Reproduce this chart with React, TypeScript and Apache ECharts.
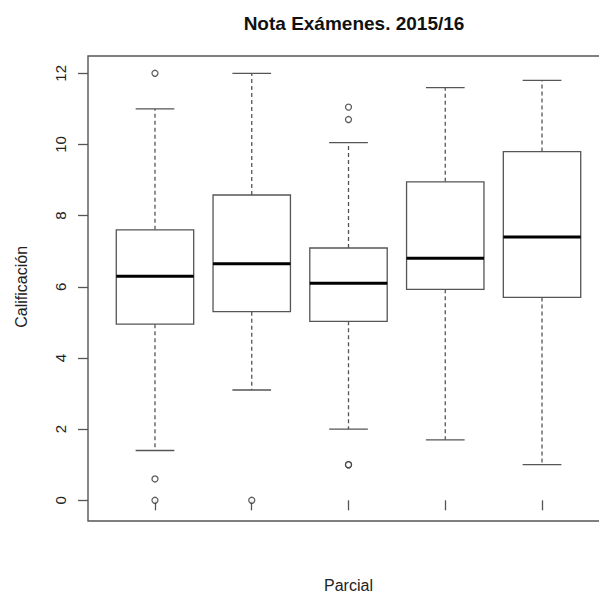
import React, { useEffect, useRef } from "react";
import * as echarts from "echarts";

const titleText = "Nota Exámenes. 2015/16";
const yAxisName = "Calificación";
const xAxisName = "Parcial";
const categories = ["1", "2", "3", "4", "5"];
const yTicks = [0, 2, 4, 6, 8, 10, 12];
const whiskerLow = [1.4, 3.1, 2.0, 1.7, 1.0];
const q1 = [4.95, 5.3, 5.03, 5.93, 5.7];
const median = [6.3, 6.65, 6.1, 6.8, 7.4];
const q3 = [7.6, 8.58, 7.09, 8.95, 9.8];
const whiskerHigh = [11.0, 12.0, 10.05, 11.6, 11.8];
const outlierGroup = [0, 0, 0, 1, 2, 2, 2, 2];
const outlierValue = [12, 0.6, 0, 0, 11.05, 10.7, 1, 1];

const FONT = "Liberation Sans";
const LINE = "#555";

export default function App() {
  const ref = useRef<HTMLDivElement>(null);
  useEffect(() => {
    if (!ref.current) return;
    const chart = echarts.init(ref.current, null, { renderer: "svg" });
    const boxData = categories.map((_, i) => [
      i,
      whiskerLow[i],
      q1[i],
      median[i],
      q3[i],
      whiskerHigh[i],
    ]);
    const outData = outlierGroup.map((g, i) => [g, outlierValue[i]]);
    chart.setOption({
      animation: false,
      backgroundColor: "#fff",
      title: {
        text: titleText,
        left: 349,
        top: 9,
        textAlign: "center",
        textStyle: { fontSize: 19, fontWeight: "bold", fontFamily: FONT, color: "#111" },
      },
      graphic: [
        {
          type: "rect",
          shape: { x: 88, y: 56, width: 540, height: 465 },
          style: { fill: "none", stroke: LINE, lineWidth: 1.4 },
          z: 10,
        },
      ],
      grid: { left: 106.6, right: 8.6, top: 73.3, bottom: 94.7 },
      xAxis: {
        type: "category",
        data: categories,
        boundaryGap: true,
        offset: 17.7,
        axisLine: { show: false },
        axisTick: { show: true, alignWithLabel: true, length: 10, lineStyle: { color: LINE, width: 1.3 } },
        axisLabel: { show: false },
        splitLine: { show: false },
        name: xAxisName,
        nameLocation: "middle",
        nameGap: 59,
        nameTextStyle: { fontSize: 16, fontFamily: FONT, color: "#222" },
      },
      yAxis: {
        type: "value",
        min: yTicks[0],
        max: yTicks[yTicks.length - 1],
        interval: 2,
        offset: 18.6,
        axisLine: { show: false },
        axisTick: { show: true, length: 10, lineStyle: { color: LINE, width: 1.3 } },
        axisLabel: { rotate: 90, margin: 20, fontSize: 15, fontFamily: FONT, color: "#222" },
        splitLine: { show: false },
        name: yAxisName,
        nameLocation: "middle",
        nameRotate: 90,
        nameGap: 59,
        nameTextStyle: { fontSize: 16, fontFamily: FONT, color: "#222" },
      },
      series: [
        {
          type: "custom",
          data: boxData,
          encode: { x: 0, y: [1, 2, 3, 4, 5] },
          renderItem: (params: any, api: any) => {
            const x = api.value(0);
            const lo = api.coord([x, api.value(1)]);
            const b1 = api.coord([x, api.value(2)]);
            const md = api.coord([x, api.value(3)]);
            const b3 = api.coord([x, api.value(4)]);
            const hi = api.coord([x, api.value(5)]);
            const band = api.size([1, 0])[0];
            const bw = band * 0.8;
            const cw = bw / 2;
            const cx = lo[0];
            const dashed = { stroke: LINE, lineWidth: 1.3, lineDash: [4, 3] };
            const solid = { stroke: LINE, lineWidth: 1.3 };
            return {
              type: "group",
              children: [
                { type: "line", shape: { x1: cx, y1: b3[1], x2: cx, y2: hi[1] }, style: dashed },
                { type: "line", shape: { x1: cx, y1: b1[1], x2: cx, y2: lo[1] }, style: dashed },
                { type: "line", shape: { x1: cx - cw / 2, y1: hi[1], x2: cx + cw / 2, y2: hi[1] }, style: solid },
                { type: "line", shape: { x1: cx - cw / 2, y1: lo[1], x2: cx + cw / 2, y2: lo[1] }, style: solid },
                {
                  type: "rect",
                  shape: { x: cx - bw / 2, y: b3[1], width: bw, height: b1[1] - b3[1] },
                  style: { fill: "#fff", stroke: LINE, lineWidth: 1.3 },
                },
                {
                  type: "line",
                  shape: { x1: cx - bw / 2, y1: md[1], x2: cx + bw / 2, y2: md[1] },
                  style: { stroke: "#000", lineWidth: 3 },
                },
              ],
            };
          },
        },
        {
          type: "scatter",
          data: outData,
          symbol: "circle",
          symbolSize: 6,
          itemStyle: { color: "#fff", borderColor: "#333", borderWidth: 1.3 },
          z: 5,
        },
      ],
    });
    return () => chart.dispose();
  }, []);
  return (
    <div
      ref={ref}
      style={{ position: "fixed", left: 0, top: 0, width: 599, height: 598, background: "#fff" }}
    />
  );
}
